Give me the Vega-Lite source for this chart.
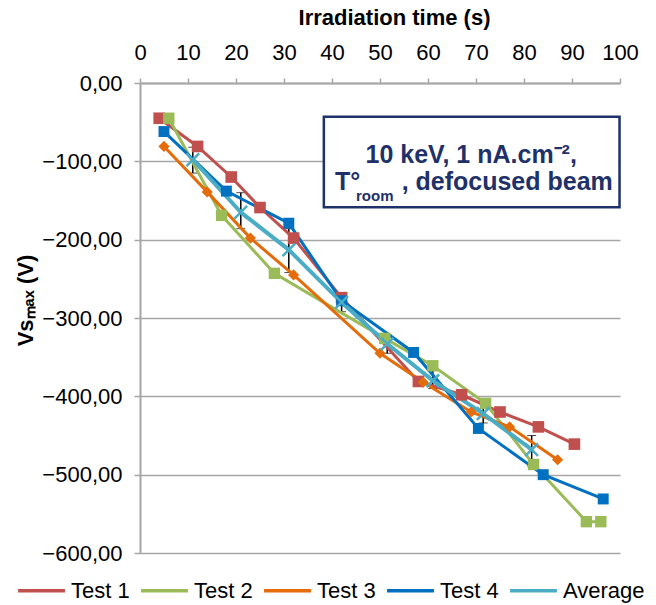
{
  "$schema": "https://vega.github.io/schema/vega-lite/v6.json",
  "width": 480,
  "height": 470,
  "autosize": {"type": "none"},
  "padding": {"left": 140, "top": 83, "right": 36, "bottom": 52},
  "background": "white",
  "config": {
    "font": "Liberation Sans",
    "view": {"stroke": null},
    "axis": {"labelFont": "Liberation Sans", "titleFont": "Liberation Sans"}
  },
  "datasets": {
    "series": [
      {"series": "Test 1", "t": 4, "v": -45},
      {"series": "Test 1", "t": 12, "v": -81},
      {"series": "Test 1", "t": 19, "v": -120},
      {"series": "Test 1", "t": 25, "v": -159},
      {"series": "Test 1", "t": 32, "v": -198},
      {"series": "Test 1", "t": 42, "v": -274},
      {"series": "Test 1", "t": 58, "v": -381},
      {"series": "Test 1", "t": 67, "v": -398},
      {"series": "Test 1", "t": 75, "v": -420},
      {"series": "Test 1", "t": 83, "v": -439},
      {"series": "Test 1", "t": 90.5, "v": -461},
      {"series": "Test 2", "t": 6, "v": -45},
      {"series": "Test 2", "t": 17, "v": -169},
      {"series": "Test 2", "t": 28, "v": -243},
      {"series": "Test 2", "t": 51, "v": -326},
      {"series": "Test 2", "t": 61, "v": -361},
      {"series": "Test 2", "t": 72, "v": -409},
      {"series": "Test 2", "t": 82, "v": -487},
      {"series": "Test 2", "t": 93, "v": -560},
      {"series": "Test 2", "t": 96, "v": -560},
      {"series": "Test 3", "t": 5, "v": -81},
      {"series": "Test 3", "t": 14, "v": -139},
      {"series": "Test 3", "t": 23, "v": -198},
      {"series": "Test 3", "t": 32, "v": -245},
      {"series": "Test 3", "t": 50, "v": -345},
      {"series": "Test 3", "t": 59, "v": -382},
      {"series": "Test 3", "t": 69, "v": -420},
      {"series": "Test 3", "t": 77, "v": -439},
      {"series": "Test 3", "t": 87, "v": -481},
      {"series": "Test 4", "t": 5, "v": -62},
      {"series": "Test 4", "t": 18, "v": -138},
      {"series": "Test 4", "t": 31, "v": -179},
      {"series": "Test 4", "t": 42, "v": -278},
      {"series": "Test 4", "t": 57, "v": -344},
      {"series": "Test 4", "t": 70.5, "v": -441},
      {"series": "Test 4", "t": 84, "v": -500},
      {"series": "Test 4", "t": 96.5, "v": -531},
      {"series": "Average", "t": 11, "v": -98},
      {"series": "Average", "t": 21, "v": -165},
      {"series": "Average", "t": 31, "v": -213},
      {"series": "Average", "t": 42, "v": -280},
      {"series": "Average", "t": 51.5, "v": -333},
      {"series": "Average", "t": 61, "v": -380},
      {"series": "Average", "t": 71.5, "v": -422},
      {"series": "Average", "t": 81.6, "v": -468}
    ],
    "errors": [
      {"t": 11, "hi": -82, "lo": -115},
      {"t": 21, "hi": -140, "lo": -186},
      {"t": 31, "hi": -186, "lo": -242},
      {"t": 42, "hi": -268, "lo": -292},
      {"t": 51.5, "hi": -322, "lo": -345},
      {"t": 61, "hi": -362, "lo": -390},
      {"t": 71.5, "hi": -405, "lo": -434},
      {"t": 81.6, "hi": -450, "lo": -489}
    ],
    "box": [{"x1": 38.3, "x2": 99.9, "y1": -43, "y2": -158.7}],
    "labels": [
      {"x": 69, "y": -102, "text": "10 keV, 1 nA.cm⁻²,", "size": 25, "pos": "center"},
      {"x": 40.6, "y": -137, "text": "T°", "size": 25, "pos": "left"},
      {"x": 45, "y": -151, "text": "room", "size": 15, "pos": "left"},
      {"x": 98.5, "y": -137, "text": ", defocused beam", "size": 25, "pos": "right"}
    ]
  },
  "layer": [
    {
      "data": {"name": "box"},
      "mark": {"type": "rect", "fill": "white", "stroke": "#1F3169", "strokeWidth": 2.5},
      "encoding": {
        "x": {"field": "x1", "type": "quantitative", "title": "Irradiation time (s)", "scale": {"domain": [0, 100], "nice": false, "zero": false},
          "axis": {"orient": "top", "title": "Irradiation time (s)", "values": [0,10,20,30,40,50,60,70,80,90,100],
            "grid": false, "domainColor": "#A6A6A6", "domainWidth": 2, "tickColor": "#A6A6A6", "tickSize": 5, "tickWidth": 1.5,
            "labelFontSize": 22, "labelColor": "black", "labelPadding": 14, "labelFlush": false,
            "titleFontSize": 22, "titleFontWeight": "bold", "titleColor": "black", "titlePadding": 12, "titleX": 254}},
        "x2": {"field": "x2"},
        "y": {"field": "y1", "type": "quantitative", "title": "Vsₘₐₓ (V)", "scale": {"domain": [-600, 0], "nice": false, "zero": false},
          "axis": {"title": "Vsₘₐₓ (V)", "values": [0,-100,-200,-300,-400,-500,-600],
            "labelExpr": "replace(format(datum.value, '.2f'), '.', ',')",
            "grid": true, "gridColor": "#A6A6A6", "gridWidth": 1.5,
            "domainColor": "#A6A6A6", "domainWidth": 2, "tickColor": "#A6A6A6", "tickSize": 6, "tickWidth": 1.5,
            "labelFontSize": 22, "labelColor": "black", "labelPadding": 12, "labelFlush": false,
            "titleFontSize": 22, "titleFontWeight": "bold", "titleColor": "black", "titlePadding": 4, "titleY": 217}},
        "y2": {"field": "y2"}
      }
    },
    {
      "data": {"name": "errors"},
      "mark": {"type": "errorbar", "ticks": {"size": 9, "color": "black", "strokeWidth": 1.5}, "rule": {"color": "black", "strokeWidth": 1.5}},
      "encoding": {
        "x": {"field": "t", "type": "quantitative", "title": "Irradiation time (s)"},
        "y": {"field": "hi", "type": "quantitative", "title": "Vsₘₐₓ (V)"},
        "y2": {"field": "lo", "title": "Vsₘₐₓ (V)"}
      }
    },
    {
      "data": {"name": "series"},
      "transform": [{"filter": "datum.series !== 'Average'"}],
      "mark": {"type": "line", "strokeWidth": 3},
      "encoding": {
        "x": {"field": "t", "type": "quantitative", "title": "Irradiation time (s)"},
        "y": {"field": "v", "type": "quantitative", "title": "Vsₘₐₓ (V)"},
        "color": {"field": "series", "type": "nominal",
          "scale": {"domain": ["Test 1", "Test 2", "Test 3", "Test 4", "Average"], "range": ["#C0504D", "#9BBB59", "#E46C0A", "#0070C0", "#4BACC6"]},
          "legend": {"orient": "none", "legendX": -124, "legendY": 482, "direction": "horizontal", "title": null,
            "symbolType": "stroke", "symbolStrokeWidth": 3.5, "symbolSize": 2200, "labelFontSize": 22, "labelColor": "black",
            "labelOffset": 4, "columnPadding": 4, "labelFont": "Liberation Sans"}}
      }
    },
    {
      "data": {"name": "series"},
      "transform": [{"filter": "datum.series === 'Average'"}],
      "mark": {"type": "line", "strokeWidth": 4},
      "encoding": {
        "x": {"field": "t", "type": "quantitative", "title": "Irradiation time (s)"},
        "y": {"field": "v", "type": "quantitative", "title": "Vsₘₐₓ (V)"},
        "color": {"field": "series", "type": "nominal"}
      }
    },
    {
      "data": {"name": "series"},
      "transform": [{"filter": "datum.series !== 'Average'"}],
      "mark": {"type": "point", "filled": true, "opacity": 1},
      "encoding": {
        "x": {"field": "t", "type": "quantitative", "title": "Irradiation time (s)"},
        "y": {"field": "v", "type": "quantitative", "title": "Vsₘₐₓ (V)"},
        "color": {"field": "series", "type": "nominal"},
        "shape": {"field": "series", "type": "nominal",
          "scale": {"domain": ["Test 1", "Test 2", "Test 3", "Test 4"], "range": ["square", "square", "diamond", "square"]},
          "legend": null},
        "size": {"field": "series", "type": "nominal",
          "scale": {"domain": ["Test 1", "Test 2", "Test 3", "Test 4"], "range": [135, 120, 180, 105]},
          "legend": null}
      }
    },
    {
      "data": {"name": "series"},
      "transform": [{"filter": "datum.series === 'Average'"}],
      "mark": {"type": "point", "shape": "M-1,-1L1,1M1,-1L-1,1", "filled": false, "strokeWidth": 2.5, "size": 160, "opacity": 1},
      "encoding": {
        "x": {"field": "t", "type": "quantitative", "title": "Irradiation time (s)"},
        "y": {"field": "v", "type": "quantitative", "title": "Vsₘₐₓ (V)"},
        "color": {"field": "series", "type": "nominal"}
      }
    },
    {
      "data": {"name": "labels"},
      "transform": [{"filter": "datum.pos === 'center'"}],
      "mark": {"type": "text", "fontWeight": "bold", "color": "#1F3169", "baseline": "alphabetic", "align": "center", "font": "Liberation Sans"},
      "encoding": {
        "x": {"field": "x", "type": "quantitative", "title": "Irradiation time (s)"},
        "y": {"field": "y", "type": "quantitative", "title": "Vsₘₐₓ (V)"},
        "text": {"field": "text"},
        "size": {"field": "size", "type": "quantitative", "scale": null}
      }
    },
    {
      "data": {"name": "labels"},
      "transform": [{"filter": "datum.pos === 'left'"}],
      "mark": {"type": "text", "fontWeight": "bold", "color": "#1F3169", "baseline": "alphabetic", "align": "left", "font": "Liberation Sans"},
      "encoding": {
        "x": {"field": "x", "type": "quantitative", "title": "Irradiation time (s)"},
        "y": {"field": "y", "type": "quantitative", "title": "Vsₘₐₓ (V)"},
        "text": {"field": "text"},
        "size": {"field": "size", "type": "quantitative", "scale": null}
      }
    },
    {
      "data": {"name": "labels"},
      "transform": [{"filter": "datum.pos === 'right'"}],
      "mark": {"type": "text", "fontWeight": "bold", "color": "#1F3169", "baseline": "alphabetic", "align": "right", "font": "Liberation Sans"},
      "encoding": {
        "x": {"field": "x", "type": "quantitative", "title": "Irradiation time (s)"},
        "y": {"field": "y", "type": "quantitative", "title": "Vsₘₐₓ (V)"},
        "text": {"field": "text"},
        "size": {"field": "size", "type": "quantitative", "scale": null}
      }
    }
  ]
}
